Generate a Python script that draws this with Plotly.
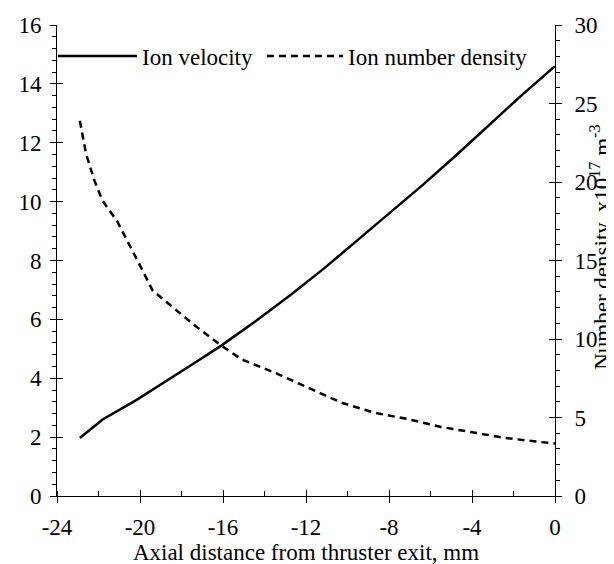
import plotly.graph_objects as go

# Data
vel_x = [-22.9, -21.8, -20.2, -18.5, -17.3, -16.1, -14.4, -12.7, -11.1, -9.5, -8.0, -6.4, -4.8, -3.2, -1.6, 0.0]
vel_y = [1.97, 2.6, 3.25, 4.0, 4.55, 5.1, 5.95, 6.85, 7.75, 8.7, 9.6, 10.55, 11.55, 12.6, 13.62, 14.6]

den_x = [-22.9, -22.6, -22.2, -21.8, -21.1, -20.5, -19.85, -19.4, -18.6, -17.4, -16.1, -15.1,
         -13.5, -11.9, -10.3, -8.7, -7.1, -5.5, -4.0, -2.4, -0.8, 0.0]
den_y = [23.9, 21.8, 20.1, 18.8, 17.5, 16.0, 14.3, 13.1, 12.2, 10.9, 9.6, 8.7,
         7.85, 6.9, 5.95, 5.3, 4.9, 4.4, 4.05, 3.7, 3.45, 3.35]

x_ticks = [-24, -20, -16, -12, -8, -4, 0]
x_labels = ["-24", "-20", "-16", "-12", "-8", "-4", "0"]
y1_ticks = [0, 2, 4, 6, 8, 10, 12, 14, 16]
y2_ticks = [0, 5, 10, 15, 20, 25, 30]

x_title = "Axial distance from thruster exit, mm"
y2_title = "Number density, x10<sup>17</sup> m<sup>-3</sup>"

FONT = "Liberation Serif, Times New Roman, serif"
FS = 23

def tf(size=FS):
    return dict(family=FONT, size=size, color="black")

fig = go.Figure()
fig.add_trace(go.Scatter(x=vel_x, y=vel_y, mode="lines", name="Ion velocity",
                         line=dict(color="black", width=2.5), xaxis="x", yaxis="y",
                         legend="legend"))
fig.add_trace(go.Scatter(x=den_x, y=den_y, mode="lines", name="Ion number density",
                         line=dict(color="black", width=2.5, dash="7px,5px"), xaxis="x", yaxis="y2",
                         legend="legend2"))
# invisible helper traces for overlay axes (crossing major ticks)
fig.add_trace(go.Scatter(x=[None], y=[None], mode="lines", showlegend=False, hoverinfo="skip",
                         xaxis="x2", yaxis="y3"))
fig.add_trace(go.Scatter(x=[None], y=[None], mode="lines", showlegend=False, hoverinfo="skip",
                         xaxis="x2", yaxis="y4"))

common = dict(showgrid=False, zeroline=False, linecolor="black", linewidth=1,
              tickcolor="black", tickwidth=1, automargin=False)
plain = dict(showgrid=False, zeroline=False, tickcolor="black", tickwidth=1,
             automargin=False, showline=False, showticklabels=False)

leg = dict(orientation="h", yanchor="middle", xanchor="left", y=0.934,
           bgcolor="rgba(0,0,0,0)", font=tf(), borderwidth=0)

fig.update_layout(
    width=614, height=564,
    margin=dict(l=49, r=67, t=17, b=76),
    paper_bgcolor="white", plot_bgcolor="white",
    font=tf(),
    showlegend=True,
    legend=dict(leg, x=-0.008, itemwidth=79),
    legend2=dict(leg, x=0.4116, itemwidth=76),
    xaxis=dict(range=[-24, 0], tickvals=x_ticks, ticktext=x_labels, ticks="outside", ticklen=6,
               showline=True, ticklabelstandoff=4,
               minor=dict(dtick=2, tick0=-24, ticks="inside", ticklen=5, tickcolor="black"),
               title=dict(text=x_title, standoff=0, font=tf()),
               tickfont=tf(), **common),
    xaxis2=dict(range=[-24, 0], overlaying="x", tickvals=x_ticks, ticks="inside", ticklen=6,
                side="bottom", anchor="y", **plain),
    yaxis=dict(range=[0, 16], tickvals=y1_ticks, ticks="outside", ticklen=6, showline=True,
               ticklabelstandoff=4,
               minor=dict(dtick=0.4, tick0=0, ticks="outside", ticklen=4, tickcolor="black"),
               tickfont=tf(), **common),
    yaxis2=dict(range=[0, 30], tickvals=y2_ticks, ticks="outside", ticklen=6, showline=True,
                overlaying="y", side="right", anchor="x", ticklabelstandoff=8,
                minor=dict(dtick=1, tick0=0, ticks="outside", ticklen=4, tickcolor="black"),
                tickfont=tf(), **common),
    yaxis3=dict(range=[0, 16], tickvals=y1_ticks, ticks="inside", ticklen=6,
                overlaying="y", side="left", anchor="x2", **plain),
    yaxis4=dict(range=[0, 30], tickvals=y2_ticks, ticks="inside", ticklen=6,
                overlaying="y", side="right", anchor="x2", **plain),
    annotations=[dict(text=y2_title, textangle=-90, xref="paper", yref="paper",
                      x=1, xshift=46, y=0.527, xanchor="center", yanchor="middle",
                      showarrow=False, font=tf())],
)

fig.write_html("out.html")
